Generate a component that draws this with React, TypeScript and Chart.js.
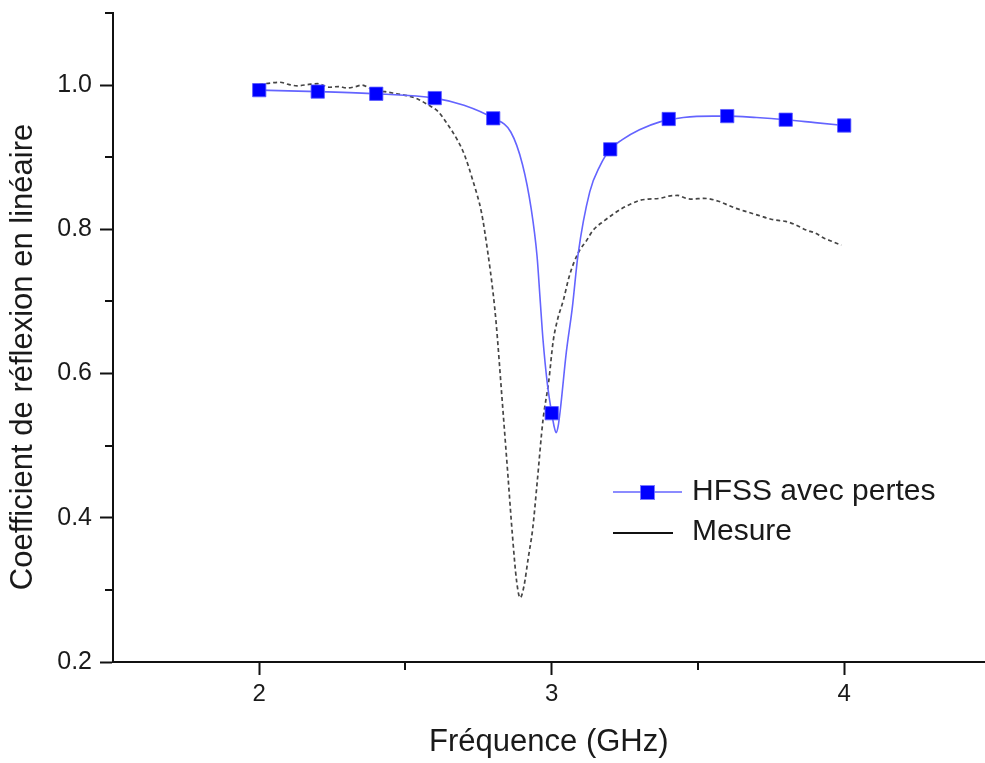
import { useEffect, useRef } from 'react';
import { Chart, registerables } from 'chart.js';

Chart.register(...registerables);

// ---- Data ----
const markerFreq = [2.0, 2.2, 2.4, 2.6, 2.8, 3.0, 3.2, 3.4, 3.6, 3.8, 4.0];
const markerValues = [0.993, 0.991, 0.988, 0.982, 0.954, 0.545, 0.911, 0.953, 0.957, 0.952, 0.944];

const hfssFreq = [2.0, 2.2, 2.4, 2.6, 2.7, 2.8, 2.86, 2.9, 2.93, 2.95, 2.96, 2.97, 2.985, 3.0, 3.008, 3.015, 3.022, 3.03, 3.05, 3.07, 3.09, 3.13, 3.165, 3.2, 3.24, 3.3, 3.37, 3.45, 3.55, 3.6, 3.7, 3.8, 3.9, 4.0];
const hfssValues = [0.993, 0.991, 0.988, 0.982, 0.972, 0.954, 0.935, 0.890, 0.828, 0.762, 0.705, 0.648, 0.586, 0.545, 0.527, 0.518, 0.527, 0.552, 0.630, 0.690, 0.765, 0.852, 0.888, 0.911, 0.924, 0.938, 0.949, 0.955, 0.957, 0.957, 0.955, 0.952, 0.948, 0.944];

const mesureFreq = [2.0, 2.04, 2.07, 2.1, 2.13, 2.17, 2.2, 2.24, 2.27, 2.3, 2.33, 2.35, 2.39, 2.43, 2.47, 2.51, 2.54, 2.58, 2.61, 2.64, 2.68, 2.7, 2.73, 2.76, 2.78, 2.8, 2.81, 2.83, 2.85, 2.865, 2.88, 2.892, 2.905, 2.92, 2.935, 2.95, 2.97, 2.99, 3.005, 3.02, 3.04, 3.06, 3.09, 3.12, 3.14, 3.18, 3.21, 3.24, 3.27, 3.3, 3.33, 3.37, 3.4, 3.43, 3.46, 3.48, 3.52, 3.57, 3.6, 3.63, 3.67, 3.71, 3.75, 3.78, 3.8, 3.83, 3.87, 3.9, 3.93, 3.96, 3.99];
const mesureValues = [1.001, 1.003, 1.004, 1.001, 0.999, 1.001, 1.002, 0.997, 0.998, 0.996, 0.998, 1.0, 0.993, 0.991, 0.988, 0.985, 0.981, 0.972, 0.964, 0.948, 0.922, 0.905, 0.868, 0.823, 0.772, 0.71, 0.67, 0.566, 0.46, 0.379, 0.312, 0.289, 0.305, 0.345, 0.385, 0.448, 0.535, 0.59, 0.645, 0.675, 0.702, 0.735, 0.767, 0.785, 0.798, 0.812, 0.821, 0.829, 0.835, 0.84, 0.842, 0.843, 0.846, 0.847, 0.843, 0.842, 0.843, 0.839, 0.834, 0.829, 0.824, 0.819, 0.814, 0.812, 0.811, 0.807, 0.799, 0.795, 0.788, 0.783, 0.778];

const xMajorTicks = [2, 3, 4];
const xMinorTicks = [2.5, 3.5];
const yMajorTicks = [0.2, 0.4, 0.6, 0.8, 1.0];
const yMinorTicks = [0.3, 0.5, 0.7, 0.9, 1.1];

const seriesLabels = ['HFSS avec pertes', 'Mesure'];
const xTitle = 'Fréquence (GHz)';
const yTitle = 'Coefficient de réflexion en linéaire';

const FONT = '"Liberation Sans", Arial, Helvetica, sans-serif';
const BLUE_LINE = 'rgb(100,100,255)';
const BLUE_MARK = '#0000ff';
const DASH_COLOR = '#454545';
const AXIS_COLOR = '#111111';
const TEXT_COLOR = '#1a1a1a';

const isIn = (arr: number[], v: number) => arr.some((m) => Math.abs(m - v) < 1e-9);

const minorTickPlugin = {
  id: 'minorTicks',
  afterDraw(chart: any) {
    const { ctx, chartArea, scales } = chart;
    ctx.save();
    ctx.strokeStyle = AXIS_COLOR;
    ctx.lineWidth = 2;
    xMinorTicks.forEach((v) => {
      const x = Math.round(scales.x.getPixelForValue(v));
      ctx.beginPath();
      ctx.moveTo(x, chartArea.bottom);
      ctx.lineTo(x, chartArea.bottom + 8);
      ctx.stroke();
    });
    yMinorTicks.forEach((v) => {
      const y = Math.round(scales.y.getPixelForValue(v));
      ctx.beginPath();
      ctx.moveTo(chartArea.left, y);
      ctx.lineTo(chartArea.left - 8, y);
      ctx.stroke();
    });
    ctx.restore();
  },
};

const yTitlePlugin = {
  id: 'yTitle',
  afterDraw(chart: any) {
    const { ctx } = chart;
    ctx.save();
    ctx.translate(23, 357);
    ctx.rotate(-Math.PI / 2);
    ctx.fillStyle = TEXT_COLOR;
    ctx.font = `31px ${FONT}`;
    ctx.textAlign = 'center';
    ctx.textBaseline = 'middle';
    ctx.fillText(yTitle, 0, 0);
    ctx.restore();
  },
};

const legendPlugin = {
  id: 'customLegend',
  afterDraw(chart: any) {
    const { ctx } = chart;
    ctx.save();
    // HFSS entry
    ctx.strokeStyle = BLUE_LINE;
    ctx.lineWidth = 1.5;
    ctx.beginPath();
    ctx.moveTo(613, 492);
    ctx.lineTo(682, 492);
    ctx.stroke();
    ctx.fillStyle = BLUE_MARK;
    ctx.fillRect(641, 486, 13, 13);
    ctx.strokeStyle = 'rgba(90,90,255,0.8)';
    ctx.lineWidth = 1;
    ctx.strokeRect(640.5, 485.5, 14, 14);
    // Mesure entry
    ctx.strokeStyle = '#111';
    ctx.lineWidth = 2;
    ctx.beginPath();
    ctx.moveTo(613, 533);
    ctx.lineTo(673, 533);
    ctx.stroke();
    ctx.fillStyle = TEXT_COLOR;
    ctx.font = `30px ${FONT}`;
    ctx.textAlign = 'left';
    ctx.textBaseline = 'middle';
    ctx.fillText(seriesLabels[0], 692, 492);
    ctx.fillText(seriesLabels[1], 692, 532);
    ctx.restore();
  },
};

export default function App() {
  const canvasRef = useRef<HTMLCanvasElement | null>(null);

  useEffect(() => {
    document.body.style.margin = '0';
    document.body.style.background = '#ffffff';
    const canvas = canvasRef.current;
    if (!canvas) return;

    const chart = new Chart(canvas, {
      type: 'line',
      data: {
        datasets: [
          {
            label: seriesLabels[0] + ' (markers)',
            data: markerFreq.map((x, i) => ({ x, y: markerValues[i] })),
            showLine: false,
            pointStyle: 'rect',
            pointRadius: 9.4,
            pointBackgroundColor: BLUE_MARK,
            pointBorderColor: 'rgba(90,90,255,0.8)',
            pointBorderWidth: 1,
            order: 0,
          },
          {
            label: seriesLabels[0],
            data: hfssFreq.map((x, i) => ({ x, y: hfssValues[i] })),
            borderColor: BLUE_LINE,
            borderWidth: 1.6,
            pointRadius: 0,
            cubicInterpolationMode: 'monotone',
            fill: false,
            order: 1,
          },
          {
            label: seriesLabels[1],
            data: mesureFreq.map((x, i) => ({ x, y: mesureValues[i] })),
            borderColor: DASH_COLOR,
            borderWidth: 1.7,
            borderDash: [4, 3],
            pointRadius: 0,
            cubicInterpolationMode: 'monotone',
            fill: false,
            order: 2,
          },
        ],
      },
      options: {
        animation: false,
        responsive: false,
        maintainAspectRatio: false,
        events: [],
        layout: { padding: { top: 13, right: 0, bottom: 0, left: 0 } },
        plugins: {
          legend: { display: false },
          tooltip: { enabled: false },
        },
        scales: {
          x: {
            type: 'linear',
            min: 1.5,
            max: 4.48,
            afterBuildTicks: (s: any) => {
              s.ticks = [...xMajorTicks, ...xMinorTicks].sort((a, b) => a - b).map((value) => ({ value }));
            },
            afterFit: (s: any) => {
              s.height = 101;
              s.paddingLeft = 0;
              s.paddingRight = 0;
            },
            ticks: {
              autoSkip: false,
              maxRotation: 0,
              padding: 5,
              color: TEXT_COLOR,
              font: { family: FONT, size: 24 },
              callback: (v: any) => (isIn(xMajorTicks, Number(v)) ? String(v) : ''),
            },
            grid: {
              display: true,
              drawOnChartArea: false,
              drawTicks: true,
              tickLength: 13,
              tickWidth: 2,
              tickColor: (c: any) => (c.tick && isIn(xMajorTicks, c.tick.value) ? AXIS_COLOR : 'rgba(0,0,0,0)'),
            },
            border: { display: true, color: AXIS_COLOR, width: 2 },
            title: {
              display: true,
              text: xTitle,
              color: TEXT_COLOR,
              font: { family: FONT, size: 31 },
              padding: { top: 0, bottom: 2 },
            },
          },
          y: {
            type: 'linear',
            min: 0.2,
            max: 1.1,
            afterBuildTicks: (s: any) => {
              s.ticks = [...yMajorTicks, ...yMinorTicks].sort((a, b) => a - b).map((value) => ({ value }));
            },
            afterFit: (s: any) => {
              s.width = 113;
              s.paddingTop = 0;
              s.paddingBottom = 0;
            },
            ticks: {
              autoSkip: false,
              padding: 8,
              color: TEXT_COLOR,
              font: { family: FONT, size: 25 },
              callback: (v: any) => (isIn(yMajorTicks, Number(v)) ? Number(v).toFixed(1) : ''),
            },
            grid: {
              display: true,
              drawOnChartArea: false,
              drawTicks: true,
              tickLength: 13,
              tickWidth: 2,
              tickColor: (c: any) => (c.tick && isIn(yMajorTicks, c.tick.value) ? AXIS_COLOR : 'rgba(0,0,0,0)'),
            },
            border: { display: true, color: AXIS_COLOR, width: 2 },
            title: { display: false },
          },
        },
      },
      plugins: [minorTickPlugin, yTitlePlugin, legendPlugin],
    } as any);

    return () => {
      chart.destroy();
    };
  }, []);

  return (
    <div style={{ width: 985, height: 763, overflow: 'hidden', background: '#fff' }}>
      <canvas ref={canvasRef} width={995} height={763} style={{ display: 'block' }} />
    </div>
  );
}
